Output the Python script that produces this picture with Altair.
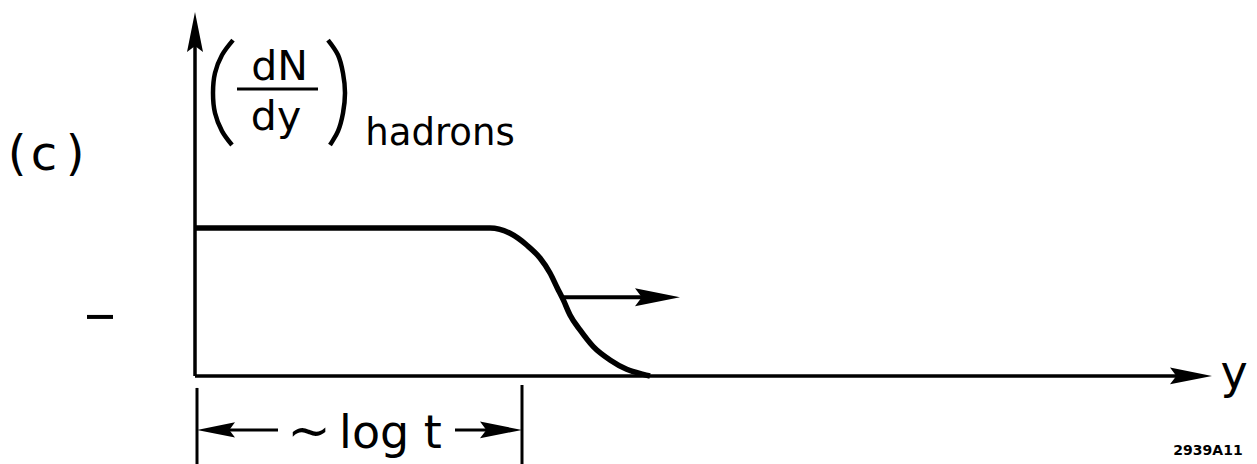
import altair as alt
import pandas as pd

# Hadron rapidity density: flat plateau, then a falling edge that moves outward
rapidity = [0.00, 2.95, 3.15, 3.317, 3.45, 3.55, 3.623, 3.683, 3.75, 3.85, 3.983, 4.15, 4.317, 4.483, 4.55]
dndy = [1.00, 1.00, 0.964, 0.885, 0.797, 0.696, 0.595, 0.514, 0.412, 0.311, 0.198, 0.108, 0.045, 0.011, 0.0]

# Big brackets around dN/dy
paren_left_x = [0.38, 0.27, 0.20, 0.18, 0.20, 0.27, 0.37]
paren_right_x = [1.33, 1.43, 1.48, 1.50, 1.48, 1.43, 1.35]
paren_y = [2.270, 2.169, 2.047, 1.912, 1.777, 1.655, 1.561]

# Straight strokes: axes, shafts, bracket bars, fraction bar, dash
seg_x = [0.0, 0.0, 3.665, 0.02, 3.27, 0.20, 2.60, 0.42, -1.08]
seg_x2 = [0.0, 9.90, 4.60, 0.02, 3.27, 0.83, 3.10, 1.23, -0.82]
seg_y = [0.0, 0.0, 0.532, -0.081, -0.061, -0.365, -0.365, 1.939, 0.399]
seg_y2 = [2.38, 0.0, 0.532, -0.595, -0.595, -0.365, -0.365, 1.939, 0.399]
seg_w = [3.5, 3.5, 4.0, 3.0, 3.0, 3.0, 3.0, 3.0, 4.0]

# Arrow heads: tip position, length in px, direction
head_x = [0.0, 10.17, 4.85, 0.02, 3.27]
head_y = [2.46, 0.0, 0.532, -0.365, -0.365]
head_len = [40, 42, 45, 38, 42]
head_dir = [270, 0, 0, 180, 0]

# Text labels
label_text = ["(", "c", ")", "dN", "dy", "hadrons", "~", "log t", "y"]
label_x = [-1.78, -1.51, -1.20, 0.845, 0.81, 2.45, 1.14, 1.955, 10.39]
label_y = [1.392, 1.392, 1.392, 2.0, 1.662, 1.561, -0.484, -0.486, -0.081]
label_size = [48, 48, 48, 41, 41, 37, 52, 46, 46]

FONT = "DejaVu Sans"
ARROW = "M0,0L-2,-0.4L-1.7,0L-2,0.4Z"

xs = alt.Scale(domain=[-1.95, 10.62], nice=False, zero=False)
ys = alt.Scale(domain=[-0.595, 2.541], nice=False, zero=False)

curve_df = pd.DataFrame({"x": rapidity, "y": dndy})
paren_df = pd.DataFrame({
    "x": paren_left_x + paren_right_x,
    "y": paren_y + paren_y,
    "side": ["l"] * len(paren_y) + ["r"] * len(paren_y),
    "i": list(range(len(paren_y))) * 2,
})
seg_df = pd.DataFrame({"x": seg_x, "x2": seg_x2, "y": seg_y, "y2": seg_y2, "w": seg_w})
head_df = pd.DataFrame({
    "x": head_x, "y": head_y,
    "size": [v * v for v in head_len],
    "angle": head_dir,
    "shape": [ARROW] * len(head_x),
})
label_df = pd.DataFrame({"x": label_x, "y": label_y, "t": label_text, "s": label_size})
code_df = pd.DataFrame({"x": [10.13], "y": [-0.534], "t": ["2939A11"]})

X = alt.X("x:Q", scale=xs, axis=None)
Y = alt.Y("y:Q", scale=ys, axis=None)

curve = alt.Chart(curve_df).mark_line(
    color="black", strokeWidth=5.5, interpolate="monotone"
).encode(x=X, y=Y)

parens = alt.Chart(paren_df).mark_line(
    color="black", strokeWidth=4.5, interpolate="catmull-rom"
).encode(x=X, y=Y, detail="side:N", order="i:Q")

segments = alt.Chart(seg_df).mark_rule(color="black").encode(
    x=X, x2="x2:Q", y=Y, y2="y2:Q",
    strokeWidth=alt.StrokeWidth("w:Q", scale=None),
)

heads = alt.Chart(head_df).mark_point(
    filled=True, color="black", opacity=1, strokeWidth=0
).encode(
    x=X, y=Y,
    shape=alt.Shape("shape:N", scale=None),
    size=alt.Size("size:Q", scale=None),
    angle=alt.Angle("angle:Q", scale=None),
)

labels = alt.Chart(label_df).mark_text(
    font=FONT, color="black", align="center", baseline="alphabetic"
).encode(x=X, y=Y, text="t:N", size=alt.Size("s:Q", scale=None))

code = alt.Chart(code_df).mark_text(
    font=FONT, fontSize=14, fontWeight="bold", color="black",
    align="center", baseline="alphabetic"
).encode(x=X, y=Y, text="t:N")

chart = alt.layer(curve, parens, segments, heads, labels, code).properties(
    width=1257, height=464, padding=0, autosize="none", background="white"
).configure_view(stroke=None)

chart.save("out.html", embed_options={"renderer": "svg", "actions": False})
